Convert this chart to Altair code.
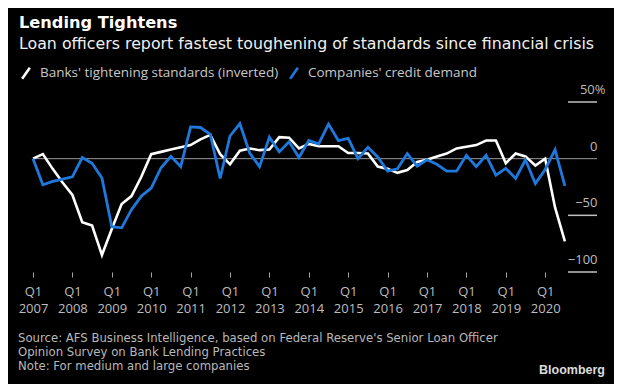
import altair as alt
import pandas as pd

# ---------------- data ----------------
quarters = [f"{2007 + i // 4}Q{i % 4 + 1}" for i in range(55)]  # 2007Q1 .. 2020Q3

banks_inverted = [
    0, 4, -9, -21, -32, -56, -59, -85,          # 2007Q1-2008Q4
    -62, -40, -33, -16, 4, 6, 8, 10,            # 2009-2010
    12, 17, 21, 4, -5, 7, 9, 7.5,               # 2011-2012
    8, 19, 18.5, 9, 13, 11, 11, 11,             # 2013-2014
    5, 5, 4.5, -7, -9, -12.5, -10, -3,          # 2015-2016
    -1, 2, 4.5, 9, 10.5, 12, 16, 16,            # 2017-2018
    -4, 4.5, 2, -6, 0, -43, -73,                # 2019-2020Q3
]
companies_demand = [
    0, -23, -20, -18, -16, 1, -4, -17,
    -60, -61, -45, -33, -26, -8, 2, -7,
    28, 27.5, 21.5, -17.5, 20, 31, 5, -7,
    19, 6, 15, 1, 16, 13, 30.5, 16,
    18, 0, 10, 1.5, -11, -9, 4.5, -6.5,
    -1, -5, -11, -11, 3, -7, 3, -14.5,
    -8.5, -17.5, -1, -22, -9.5, 8, -24,
]
series_names = ["Banks' tightening standards (inverted)", "Companies' credit demand"]
series_colors = ["#ffffff", "#1f78dc"]
y_ticks = [50, 0, -50, -100]
y_grid_short = [50, -50, -100]
x_tick_index = list(range(0, 53, 4))  # Q1 of 2007..2020

title_text = "Lending Tightens"
subtitle_text = "Loan officers report fastest toughening of standards since financial crisis"
footer_lines = [
    "Source: AFS Business Intelligence, based on Federal Reserve's Senior Loan Officer",
    "Opinion Survey on Bank Lending Practices",
    "Note: For medium and large companies",
]
brand = "Bloomberg"

# ---------------- tables ----------------
rows = []
for i, q in enumerate(quarters):
    rows.append({"idx": i, "quarter": q, "series": series_names[0], "value": banks_inverted[i]})
    rows.append({"idx": i, "quarter": q, "series": series_names[1], "value": companies_demand[i]})
df = pd.DataFrame(rows)
ref_df = pd.DataFrame({"value": [0]})
grid_df = pd.DataFrame({"value": y_grid_short})

W, H = 564, 170
FONT = "Open Sans"
HEAD_FONT = "DejaVu Sans"

x_scale = alt.Scale(domain=[0, 57.26], nice=False, zero=False)
y_scale = alt.Scale(domain=[-100, 50], nice=False, zero=False)
color_scale = alt.Scale(domain=series_names, range=series_colors)

x_axis = alt.Axis(
    values=x_tick_index,
    labelExpr="['Q1', '' + (2007 + datum.value / 4)]",
    domain=False, grid=False, ticks=True, tickSize=5, tickColor="#a8a8a8", tickWidth=1,
    labelColor="#bdbdbd", labelFont=FONT, labelFontSize=13, labelLineHeight=17,
    labelBaseline="alphabetic", labelPadding=18, labelFlush=False, labelOverlap=False,
    title=None,
)
y_axis = alt.Axis(
    orient="right", values=y_ticks,
    labelExpr="datum.value == 50 ? '50%' : datum.label",
    domain=False, grid=False, ticks=False, tickSize=0,
    labelAlign="right",
    labelPadding={"condition": {"test": "datum.value == 50", "value": 8}, "value": 0},
    labelBaseline="alphabetic", labelOffset=-8.5,
    labelColor="#bdbdbd", labelFont=FONT, labelFontSize=13, labelOverlap=False,
    title=None,
)
legend = alt.Legend(
    orient="none", legendX=-14, legendY=-36, direction="horizontal", title=None,
    symbolType="M-0.7,1L0.7,-1", symbolSize=121, symbolStrokeWidth=2.6,
    labelFont=FONT, labelFontSize=13.5, labelColor="#c8c8c8", labelOffset=7,
    columnPadding=5, labelLimit=0, padding=0,
)

X = alt.X("idx:Q", scale=x_scale, axis=x_axis)
Y = alt.Y("value:Q", scale=y_scale, axis=y_axis)
C = alt.Color("series:N", scale=color_scale, legend=legend)

base = alt.Chart(df)

white_line = base.transform_filter(
    alt.datum.series == series_names[0]
).mark_line(strokeWidth=2.6, strokeJoin="miter").encode(x=X, y=Y, color=C)

blue_line = base.transform_filter(
    alt.datum.series == series_names[1]
).mark_line(strokeWidth=2.8, strokeJoin="miter").encode(x=X, y=Y, color=C)

zero_rule = alt.Chart(ref_df).mark_rule(
    color="#9a9a9a", strokeWidth=1
).encode(y=Y, x=alt.value(0), x2=alt.value(W))

grid_short = alt.Chart(grid_df).mark_rule(
    color="#c0c0c0", strokeWidth=1.5
).encode(y=Y, x=alt.value(535), x2=alt.value(W))

title_mark = alt.Chart(pd.DataFrame({"t": [title_text]})).mark_text(
    align="left", baseline="alphabetic", font=HEAD_FONT, fontSize=16.2,
    fontWeight="bold", color="#ffffff",
).encode(text="t:N", x=alt.value(-14), y=alt.value(-74))

subtitle_mark = alt.Chart(pd.DataFrame({"t": [subtitle_text]})).mark_text(
    align="left", baseline="alphabetic", font=HEAD_FONT, fontSize=15.8,
    color="#f0f0f0",
).encode(text="t:N", x=alt.value(-14), y=alt.value(-53))

footer = alt.Chart(pd.DataFrame({"t": ["\n".join(footer_lines)]})).mark_text(
    align="left", baseline="alphabetic", lineBreak="\n", lineHeight=14.4,
    font=HEAD_FONT, fontSize=11.7, color="#b8b8b8",
).encode(text="t:N", x=alt.value(-15), y=alt.value(239.5))

brand_text = alt.Chart(pd.DataFrame({"t": [brand]})).mark_text(
    align="right", baseline="alphabetic", font="Liberation Sans", fontSize=12.5,
    fontWeight="bold", color="#dcdcdc",
).encode(text="t:N", x=alt.value(572), y=alt.value(272))

chart = alt.layer(
    zero_rule, grid_short, white_line, blue_line,
    title_mark, subtitle_mark, footer, brand_text
).properties(
    width=W, height=H,
    autosize=alt.AutoSizeParams(type="none"),
    padding={"left": 25, "top": 94, "right": 17, "bottom": 112},
).configure(
    background="#000000",
).configure_view(stroke=None)

chart.save("out.html", embed_options={"renderer": "svg", "actions": False})
